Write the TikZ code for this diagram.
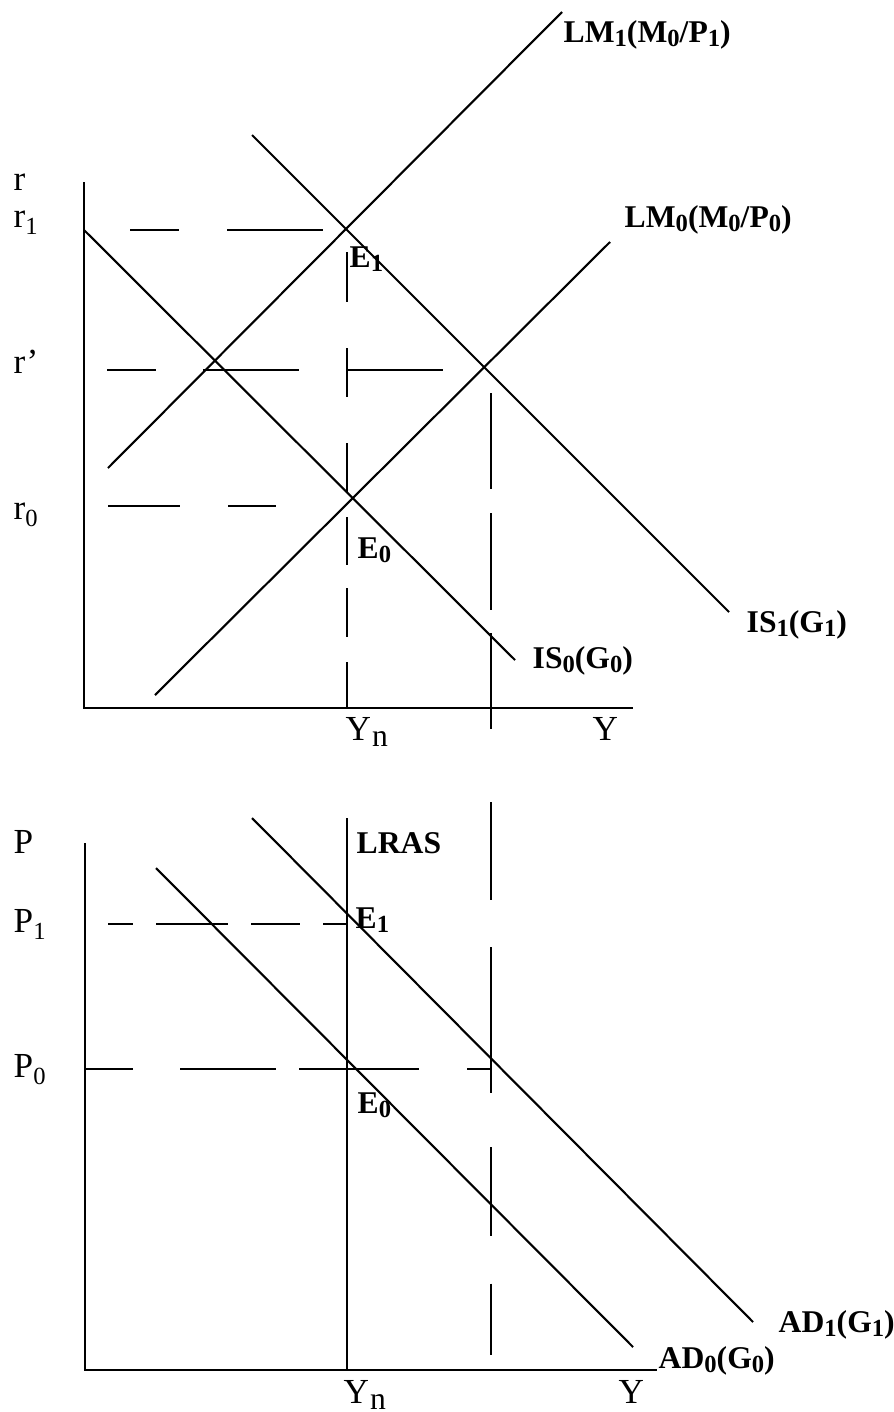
\documentclass[tikz,border=0pt]{standalone}
\usepackage{fontspec}
\setmainfont{Liberation Serif}
\newcommand\bsub[1]{\raisebox{-0.3ex}{\fontsize{7}{8}\selectfont\bfseries #1}}
\newcommand\rsub[1]{\raisebox{-0.45ex}{\fontsize{7}{8}\selectfont #1}}
\newcommand\nsub{\kern0.3pt\raisebox{-0.4ex}{\fontsize{9}{10}\selectfont n}}
\begin{document}
\begin{tikzpicture}[x=0.01cm,y=-0.01cm,
  curve/.style={line width=0.6pt},
  axisline/.style={line width=0.7pt},
  guide/.style={line width=0.6pt},
  lbl/.style={inner sep=0pt,anchor=base west,font=\fontsize{9}{11}\selectfont\bfseries},
  axl/.style={inner sep=0pt,anchor=base west,font=\fontsize{10}{12}\selectfont}]
\useasboundingbox (0,0) rectangle (894,1412);

% ---------------- top panel: IS-LM ----------------
\coordinate (tO) at (84,708);
\coordinate (tYtop) at (84,182);
\coordinate (tXend) at (633,708);
\draw[axisline] (tYtop) -- (tO) -- (tXend);

\coordinate (lm1a) at (108,468); \coordinate (lm1b) at (562,12);
\coordinate (lm0a) at (155,695); \coordinate (lm0b) at (610,242);
\coordinate (is0a) at (84,230);  \coordinate (is0b) at (515,660);
\coordinate (is1a) at (252,135); \coordinate (is1b) at (729,612);
\draw[curve] (lm1a) -- (lm1b);
\draw[curve] (lm0a) -- (lm0b);
\draw[curve] (is0a) -- (is0b);
\draw[curve] (is1a) -- (is1b);

% dashed guides (top)
\coordinate (r1a) at (130,230); \coordinate (r1b) at (323,230);
\draw[guide,dash pattern=on 4.9mm off 4.8mm on 9.6mm off 10mm] (r1a) -- (r1b);
\coordinate (rpa) at (107,370); \coordinate (rpb) at (443,370);
\draw[guide,dash pattern=on 4.9mm off 4.7mm on 9.6mm off 4.8mm on 9.6mm off 10mm] (rpa) -- (rpb);
\coordinate (r0a) at (108,506); \coordinate (r0b) at (276,506);
\draw[guide,dash pattern=on 7.2mm off 4.8mm on 4.8mm off 10mm] (r0a) -- (r0b);
\coordinate (yna) at (347,252); \coordinate (ynb) at (347,708);
\draw[guide,dash pattern=on 5.0mm off 4.6mm on 4.9mm off 4.6mm on 5.0mm off 2.4mm on 4.8mm off 2.3mm on 4.9mm off 2.5mm on 4.6mm off 10mm] (yna) -- (ynb);
\coordinate (vda) at (491,393); \coordinate (vdb) at (491,1355);
\draw[guide,dash pattern=on 9.6mm off 2.4mm on 9.7mm off 2.3mm on 9.6mm off 7.3mm on 9.8mm off 4.7mm on 14.6mm off 5.4mm on 8.8mm off 4.8mm on 7.2mm off 10mm] (vda) -- (vdb);

% labels (top)
\node[axl] (lr)  at (13,190) {r};
\node[axl] (lr1) at (13,227) {r\rsub{1}};
\node[axl] (lrp) at (13,373) {r’};
\node[axl] (lr0) at (13,519) {r\rsub{0}};
\node[axl] (lyn) at (345,740) {Y\nsub};
\node[axl] (ly)  at (592,740) {Y};
\node[lbl] (llm1) at (563,42)  {LM\bsub{1}(M\bsub{0}/P\bsub{1})};
\node[lbl] (llm0) at (624,227) {LM\bsub{0}(M\bsub{0}/P\bsub{0})};
\node[lbl] (lis1) at (746,632) {IS\bsub{1}(G\bsub{1})};
\node[lbl] (lis0) at (532,668) {IS\bsub{0}(G\bsub{0})};
\node[lbl] (le1t) at (349,267) {E\bsub{1}};
\node[lbl] (le0t) at (357,558) {E\bsub{0}};

% ---------------- bottom panel: AD-AS ----------------
\coordinate (bO) at (85,1370);
\coordinate (bYtop) at (85,843);
\coordinate (bXend) at (657,1370);
\draw[axisline] (bYtop) -- (bO) -- (bXend);

\coordinate (lrasa) at (347,818); \coordinate (lrasb) at (347,1370);
\draw[curve] (lrasa) -- (lrasb);
\coordinate (ad1a) at (252,818); \coordinate (ad1b) at (753,1322);
\coordinate (ad0a) at (156,868); \coordinate (ad0b) at (633,1347);
\draw[curve] (ad1a) -- (ad1b);
\draw[curve] (ad0a) -- (ad0b);

\coordinate (p1a) at (108,924); \coordinate (p1b) at (347,924);
\draw[guide,dash pattern=on 2.5mm off 2.3mm on 7.2mm off 2.3mm on 4.9mm off 2.3mm on 2.4mm off 10mm] (p1a) -- (p1b);
\coordinate (p0a) at (85,1069); \coordinate (p0b) at (491,1069);
\draw[guide,dash pattern=on 4.8mm off 4.7mm on 9.6mm off 2.3mm on 12.0mm off 4.8mm on 2.4mm off 10mm] (p0a) -- (p0b);

% labels (bottom)
\node[axl] (lp)  at (13,853) {P};
\node[axl] (lp1) at (13,932) {P\rsub{1}};
\node[axl] (lp0) at (13,1077) {P\rsub{0}};
\node[axl] (lynb) at (343,1403) {Y\nsub};
\node[axl] (lyb)  at (618,1403) {Y};
\node[lbl] (llras) at (356,853) {LRAS};
\node[lbl] (le1b) at (355,928) {E\bsub{1}};
\node[lbl] (le0b) at (357,1113) {E\bsub{0}};
\node[lbl] (lad1) at (778,1332) {AD\bsub{1}(G\bsub{1})};
\node[lbl] (lad0) at (658,1368) {AD\bsub{0}(G\bsub{0})};
\end{tikzpicture}
\end{document}
